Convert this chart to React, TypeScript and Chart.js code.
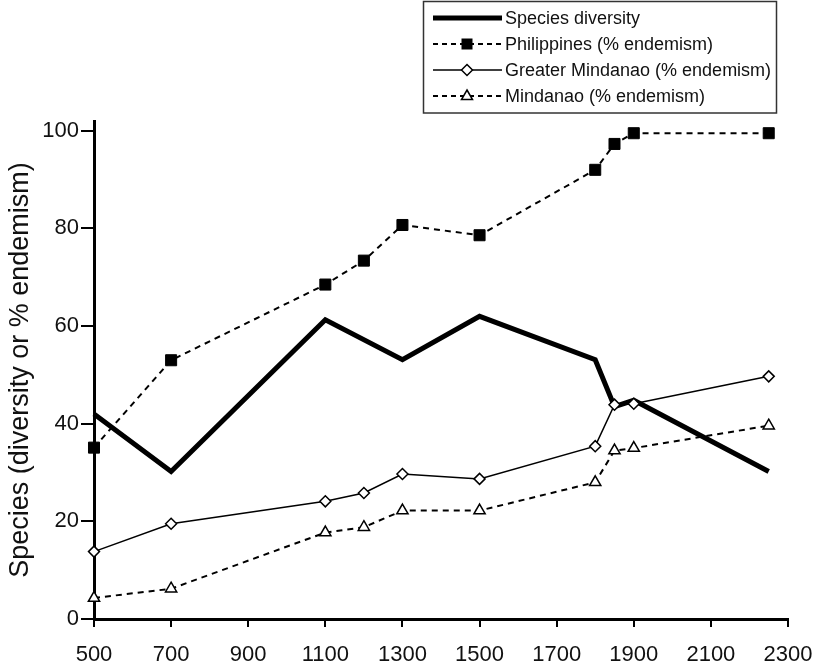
import React, { useEffect, useRef } from "react";
import { Chart, registerables } from "chart.js";

Chart.register(...registerables);

// Elevation (m)
const elevations = [500, 700, 1100, 1200, 1300, 1500, 1800, 1850, 1900, 2250];
const speciesElevations = [500, 700, 1100, 1300, 1500, 1800, 1850, 1900, 2250];
const speciesDiversity = [42, 30.2, 61.3, 53.1, 62, 53.1, 43.5, 44.8, 30.2];
const philippinesEndemism = [35.1, 53, 68.5, 73.4, 80.7, 78.6, 92, 97.3, 99.5, 99.5];
const greaterMindanaoEndemism = [13.8, 19.5, 24.1, 25.8, 29.7, 28.7, 35.4, 43.9, 44.1, 49.7];
const mindanaoEndemism = [4.3, 6.2, 17.7, 18.8, 22.2, 22.2, 28, 34.5, 35, 39.6];

const xTicks = [500, 700, 900, 1100, 1300, 1500, 1700, 1900, 2100, 2300];
const yTicks = [0, 20, 40, 60, 80, 100];

const seriesNames = [
  "Species diversity",
  "Philippines (% endemism)",
  "Greater Mindanao (% endemism)",
  "Mindanao (% endemism)",
];
const yTitle = "Species (diversity or % endemism)";

const FONT = "'Liberation Sans', Arial, Helvetica, sans-serif";

const toPoints = (xs: number[], ys: number[]) => xs.map((x, i) => ({ x, y: ys[i] }));

function drawMarker(ctx: CanvasRenderingContext2D, kind: string, x: number, y: number) {
  ctx.save();
  ctx.setLineDash([]);
  ctx.beginPath();
  if (kind === "rect") {
    ctx.rect(x - 5.5, y - 5.5, 11, 11);
    ctx.fillStyle = "#000";
    ctx.fill();
  } else if (kind === "rectRot") {
    ctx.moveTo(x, y - 5.5);
    ctx.lineTo(x + 5.5, y);
    ctx.lineTo(x, y + 5.5);
    ctx.lineTo(x - 5.5, y);
    ctx.closePath();
    ctx.fillStyle = "#fff";
    ctx.fill();
    ctx.lineWidth = 1.5;
    ctx.strokeStyle = "#000";
    ctx.stroke();
  } else if (kind === "triangle") {
    ctx.moveTo(x, y - 6);
    ctx.lineTo(x + 5.5, y + 3.5);
    ctx.lineTo(x - 5.5, y + 3.5);
    ctx.closePath();
    ctx.fillStyle = "#fff";
    ctx.fill();
    ctx.lineWidth = 1.5;
    ctx.strokeStyle = "#000";
    ctx.stroke();
  }
  ctx.restore();
}

const legendPlugin = {
  id: "boxLegend",
  afterDraw(chart: any) {
    const ctx: CanvasRenderingContext2D = chart.ctx;
    ctx.save();
    ctx.strokeStyle = "#333";
    ctx.lineWidth = 1.5;
    ctx.strokeRect(423.5, 1.5, 353, 111.5);
    const rows = [18, 44, 70, 96];
    const styles = [
      { w: 5, dash: [] as number[], marker: "" },
      { w: 2, dash: [5, 4], marker: "rect" },
      { w: 1.5, dash: [] as number[], marker: "rectRot" },
      { w: 2, dash: [5, 4], marker: "triangle" },
    ];
    rows.forEach((y, i) => {
      const s = styles[i];
      ctx.save();
      ctx.strokeStyle = "#000";
      ctx.lineWidth = s.w;
      ctx.setLineDash(s.dash);
      ctx.beginPath();
      ctx.moveTo(433, y);
      ctx.lineTo(502, y);
      ctx.stroke();
      ctx.restore();
      if (s.marker) drawMarker(ctx, s.marker, 467, y);
      ctx.fillStyle = "#111";
      ctx.font = `18px ${FONT}`;
      ctx.textBaseline = "middle";
      ctx.textAlign = "left";
      ctx.fillText(seriesNames[i], 505, y + 1);
    });
    ctx.restore();
  },
};

export default function App() {
  const canvasRef = useRef<HTMLCanvasElement | null>(null);

  useEffect(() => {
    if (!canvasRef.current) return;
    const chart = new Chart(canvasRef.current, {
      type: "line",
      data: {
        datasets: [
          {
            label: seriesNames[0],
            data: toPoints(speciesElevations, speciesDiversity),
            borderColor: "#000",
            borderWidth: 5,
            pointRadius: 0,
            borderJoinStyle: "miter",
            order: 4,
            clip: false,
          },
          {
            label: seriesNames[1],
            data: toPoints(elevations, philippinesEndemism),
            borderColor: "#000",
            borderWidth: 2,
            borderDash: [6, 5],
            pointStyle: "rect",
            pointRadius: 7.8,
            pointBackgroundColor: "#000",
            pointBorderColor: "#000",
            pointBorderWidth: 1,
            order: 1,
            clip: false,
          },
          {
            label: seriesNames[2],
            data: toPoints(elevations, greaterMindanaoEndemism),
            borderColor: "#000",
            borderWidth: 1.5,
            pointStyle: "rectRot",
            pointRadius: 5.5,
            pointBackgroundColor: "#fff",
            pointBorderColor: "#000",
            pointBorderWidth: 1.5,
            order: 2,
            clip: false,
          },
          {
            label: seriesNames[3],
            data: toPoints(elevations, mindanaoEndemism),
            borderColor: "#000",
            borderWidth: 2,
            borderDash: [6, 5],
            pointStyle: "triangle",
            pointRadius: 6.5,
            pointBackgroundColor: "#fff",
            pointBorderColor: "#000",
            pointBorderWidth: 1.5,
            order: 3,
            clip: false,
          },
        ],
      },
      options: {
        responsive: false,
        animation: false,
        events: [],
        layout: { padding: { top: 121, right: 30, left: 0, bottom: 0 } },
        plugins: {
          legend: { display: false },
          tooltip: { enabled: false },
        },
        scales: {
          x: {
            type: "linear",
            min: 500,
            max: 2300,
            afterBuildTicks: (scale: any) => {
              scale.ticks = xTicks.map((v) => ({ value: v }));
            },
            afterFit: (scale: any) => {
              scale.height = 47;
              scale.paddingLeft = 0;
              scale.paddingRight = 0;
            },
            grid: {
              drawOnChartArea: false,
              drawTicks: true,
              tickLength: 8,
              lineWidth: 2,
              color: "#000",
            },
            border: { display: true, color: "#000", width: 3 },
            ticks: {
              color: "#111",
              font: { family: FONT, size: 22 },
              padding: 15,
              maxRotation: 0,
              autoSkip: false,
              callback: (v: any) => String(v),
            },
          },
          y: {
            type: "linear",
            min: 0,
            max: 102,
            afterBuildTicks: (scale: any) => {
              scale.ticks = yTicks.map((v) => ({ value: v }));
            },
            afterFit: (scale: any) => {
              scale.width = 94;
            },
            grid: {
              drawOnChartArea: false,
              drawTicks: true,
              tickLength: 13,
              lineWidth: 2,
              color: "#000",
            },
            border: { display: true, color: "#000", width: 3 },
            ticks: {
              color: "#111",
              font: { family: FONT, size: 22 },
              padding: 2,
              autoSkip: false,
              callback: (v: any) => String(v),
            },
            title: {
              display: true,
              text: yTitle,
              color: "#111",
              font: { family: FONT, size: 27 },
              padding: { top: 4, bottom: 0 },
            },
          },
        },
      },
      plugins: [legendPlugin],
    } as any);
    return () => chart.destroy();
  }, []);

  return (
    <div style={{ position: "fixed", left: 0, top: 0, width: 818, height: 666, background: "#fff" }}>
      <canvas ref={canvasRef} width={818} height={666} style={{ width: 818, height: 666, display: "block" }} />
    </div>
  );
}
